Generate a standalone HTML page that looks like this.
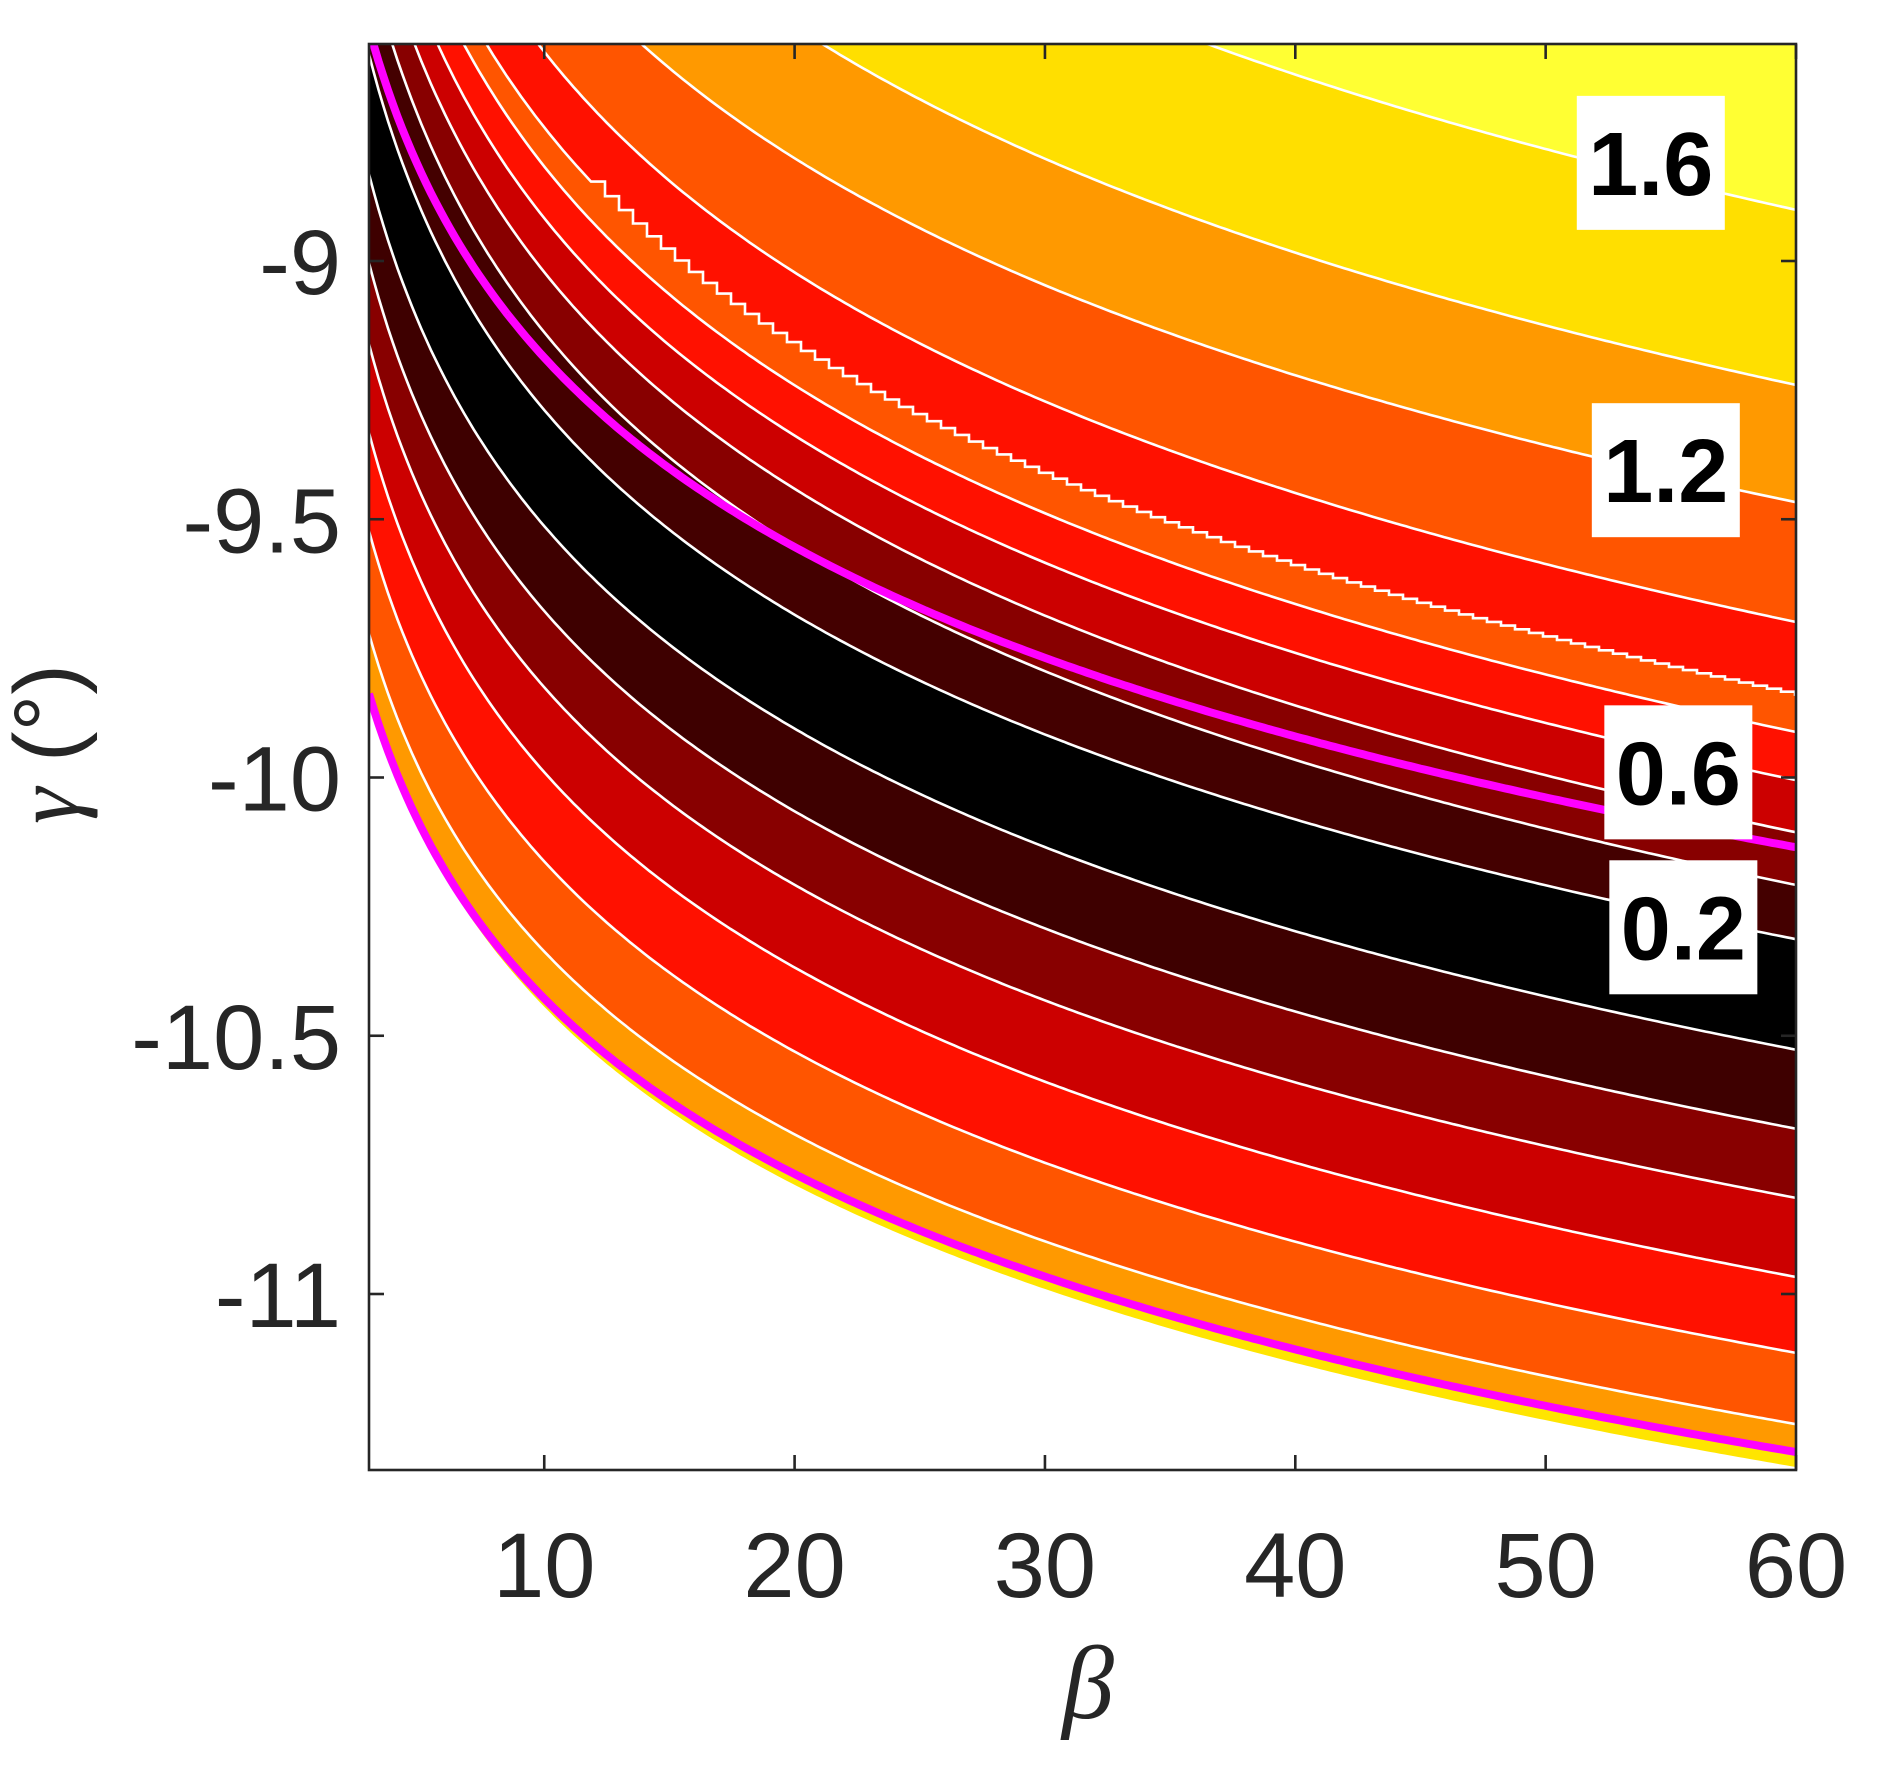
<!DOCTYPE html>
<html>
<head>
<meta charset="utf-8">
<style>
  html, body { margin: 0; padding: 0; background: #ffffff; }
  #chart { display: block; }
</style>
</head>
<body>
<svg id="chart" width="1881" height="1781" viewBox="0 0 1881 1781" xmlns="http://www.w3.org/2000/svg">
  <defs>
    <clipPath id="plotClip"><rect x="369" y="44" width="1427" height="1426"/></clipPath>
  </defs>
  <rect x="0" y="0" width="1881" height="1781" fill="#ffffff"/>
  <g id="plot" clip-path="url(#plotClip)">
    <rect x="369" y="44" width="1427" height="1426" fill="#ffff33"/>
    <g id="bands"></g>
    <g id="lines"></g>
    <g id="magenta"></g>
  </g>
  <g id="axes"></g>
  <g id="labels"></g>
  <text x="1088" y="1718" font-family="'Liberation Serif', serif" font-style="italic" font-size="104" fill="#262626" text-anchor="middle">β</text>
  <text transform="translate(78,744) rotate(-90)" font-family="'Liberation Sans', sans-serif" font-size="92" fill="#262626" text-anchor="middle"><tspan font-family="'Liberation Serif', serif" font-style="italic">γ</tspan> (°)</text>
</svg>
<script>
// ---- data ----
const betaMin = 3, betaMax = 60, gammaTop = -8.58, gammaBottom = -11.341;
// each contour line: gamma at beta=3 and gamma at beta=60 (log-shaped curve between)
const lineGammaAtBeta3  = [-6.966, -7.347, -7.651, -7.853, -8.003, -8.081, -8.186, -8.293, -8.419, -8.600, -8.832, -9.004, -9.161, -9.333, -9.523, -9.722];
const lineGammaAtBeta60 = [-8.901, -9.240, -9.467, -9.699, -9.840, -9.912, -10.005, -10.106, -10.208, -10.313, -10.527, -10.680, -10.814, -10.967, -11.114, -11.252];
const bandColorBelow    = ['#ffdf00','#ff9900','#ff5500','#ff1100','#ff5500','#ff1100','#cc0000','#880000','#440000','#000000','#3e0000','#880000','#cc0000','#ff1100','#ff5500','#ff9900'];
const steppedLine       = [false,false,false,false,true,false,false,false,false,false,false,false,false,false,false,false];
const yellowEdgeGamma3 = -9.838, yellowEdgeGamma60 = -11.306;
const whiteEdgeGamma3 = -9.845, whiteEdgeGamma60 = -11.335;
const magentaGamma3  = [-8.55, -9.838];
const magentaGamma60 = [-10.135, -11.306];
const xTicks = [10, 20, 30, 40, 50, 60];
const xTickLabels = ['10','20','30','40','50','60'];
const yTicks = [-9, -9.5, -10, -10.5, -11];
const yTickLabels = ['-9','-9.5','-10','-10.5','-11'];
const contourLabelText = ['1.6','1.2','0.6','0.2'];
const contourLabelBeta = [54.2, 54.8, 55.3, 55.5];
const contourLabelGamma = [-8.81, -9.405, -9.99, -10.29];

// ---- scales ----
const X0 = 369, X1 = 1796, Y0 = 44, Y1 = 1470;
function xs(b) { return X0 + (b - betaMin) * (X1 - X0) / (betaMax - betaMin); }
function ys(g) { return 261 + (-9 - g) * 516.5; }
function curve(g3, g60, b) { return g3 + (g60 - g3) * Math.log(b / 3) / Math.log(20); }
const NS = 'http://www.w3.org/2000/svg';
function mk(tag, attrs) { const e = document.createElementNS(NS, tag); for (const k in attrs) e.setAttribute(k, attrs[k]); return e; }

function curvePoints(g3, g60, stepped) {
  const pts = [];
  const N = 300;
  if (!stepped) {
    for (let i = 0; i <= N; i++) {
      const b = betaMin + (betaMax - betaMin) * i / N;
      pts.push([xs(b), ys(curve(g3, g60, b))]);
    }
    return pts;
  }
  const stepPx = 14;
  let lastY = null;
  for (let x = X0 - 2; x <= X1 + 14; x += stepPx) {
    const b = Math.max(betaMin + (x - X0) / (X1 - X0) * (betaMax - betaMin), 2.5);
    const y = ys(curve(g3, g60, b));
    if (b < 12) { pts.push([x, y]); lastY = y; continue; }
    if (lastY !== null) pts.push([x, lastY]);
    pts.push([x, y]);
    lastY = y;
  }
  return pts;
}
function toPath(pts) { return pts.map((p, i) => (i ? 'L' : 'M') + p[0].toFixed(1) + ' ' + p[1].toFixed(1)).join(' '); }

const bands = document.getElementById('bands');
const lines = document.getElementById('lines');
for (let i = 0; i < lineGammaAtBeta3.length; i++) {
  const pts = curvePoints(lineGammaAtBeta3[i], lineGammaAtBeta60[i], steppedLine[i]);
  const fillD = toPath(pts) + ` L ${X1 + 40} ${Y1 + 40} L ${X0 - 40} ${Y1 + 40} Z`;
  const band = mk('path', { d: fillD, fill: bandColorBelow[i], stroke: 'none' });
  
  
  bands.appendChild(band);
  const ln = mk('path', { d: toPath(pts), fill: 'none', stroke: '#ffffff', 'stroke-width': 2.6 });
  
  
  lines.appendChild(ln);
}
// yellow sliver and white undefined region
const yPts = curvePoints(yellowEdgeGamma3, yellowEdgeGamma60, false);
const yBand = mk('path', { d: toPath(yPts) + ` L ${X1 + 40} ${Y1 + 40} L ${X0 - 40} ${Y1 + 40} Z`, fill: '#ffe500' });


bands.appendChild(yBand);
const wPts = curvePoints(whiteEdgeGamma3, whiteEdgeGamma60, false);
const wBand = mk('path', { d: toPath(wPts) + ` L ${X1 + 40} ${Y1 + 40} L ${X0 - 40} ${Y1 + 40} L ${X0 - 40} ${ys(whiteEdgeGamma3)} Z`, fill: '#ffffff' });


bands.appendChild(wBand);

const mg = document.getElementById('magenta');
for (let i = 0; i < magentaGamma3.length; i++) {
  const pts = curvePoints(magentaGamma3[i], magentaGamma60[i], false);
  const p = mk('path', { d: toPath(pts), fill: 'none', stroke: '#ff00ff', 'stroke-width': 8 });
  
  
  mg.appendChild(p);
}

// axes
const ax = document.getElementById('axes');
const box = mk('rect', { x: X0, y: Y0, width: X1 - X0, height: Y1 - Y0, fill: 'none', stroke: '#262626', 'stroke-width': 2.6 });


ax.appendChild(box);
const TL = 15;
xTicks.forEach((b, i) => {
  const x = xs(b);
  const t1 = mk('line', { x1: x, y1: Y1, x2: x, y2: Y1 - TL, stroke: '#262626', 'stroke-width': 2.6 });
  
  
  ax.appendChild(t1);
  const t2 = mk('line', { x1: x, y1: Y0, x2: x, y2: Y0 + TL, stroke: '#262626', 'stroke-width': 2.6 });
  
  
  ax.appendChild(t2);
  const lbl = mk('text', { x: x, y: 1597, 'font-family': "'Liberation Sans', sans-serif", 'font-size': 92, fill: '#262626', 'text-anchor': 'middle' });
  lbl.textContent = xTickLabels[i];
  
  
  ax.appendChild(lbl);
});
yTicks.forEach((g, i) => {
  const y = ys(g);
  const t1 = mk('line', { x1: X0, y1: y, x2: X0 + TL, y2: y, stroke: '#262626', 'stroke-width': 2.6 });
  
  
  ax.appendChild(t1);
  const t2 = mk('line', { x1: X1, y1: y, x2: X1 - TL, y2: y, stroke: '#262626', 'stroke-width': 2.6 });
  
  
  ax.appendChild(t2);
  const lbl = mk('text', { x: 341, y: y + 33, 'font-family': "'Liberation Sans', sans-serif", 'font-size': 92, fill: '#262626', 'text-anchor': 'end' });
  lbl.textContent = yTickLabels[i];
  
  
  ax.appendChild(lbl);
});

// contour labels
const lg = document.getElementById('labels');
contourLabelText.forEach((t, i) => {
  const cx = xs(contourLabelBeta[i]), cy = ys(contourLabelGamma[i]);
  const r = mk('rect', { x: cx - 74, y: cy - 67, width: 148, height: 134, fill: '#ffffff' });
  
  
  lg.appendChild(r);
  const tx = mk('text', { x: cx, y: cy + 32, 'font-family': "'Liberation Sans', sans-serif", 'font-weight': 'bold', 'font-size': 90, fill: '#000000', 'text-anchor': 'middle' });
  tx.textContent = t;
  
  
  lg.appendChild(tx);
});
</script>
</body>
</html>
